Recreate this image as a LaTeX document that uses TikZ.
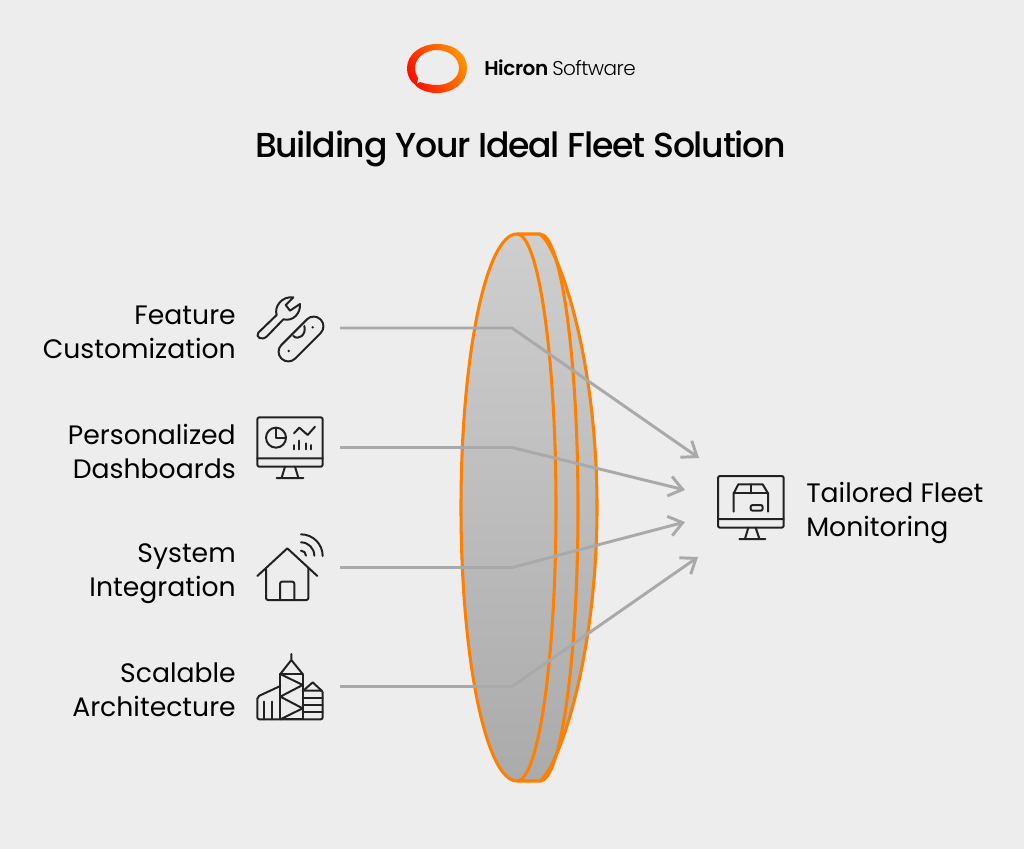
\documentclass[tikz,border=0pt]{standalone}
\usepackage{fontspec}
\setmainfont{Poppins}
\newfontfamily\medfont[LetterSpace=-3.6]{Poppins Medium}
\newfontfamily\semifont[LetterSpace=-2]{Poppins SemiBold}
\newfontfamily\lightfont[LetterSpace=-2.8]{Poppins Light}
\usetikzlibrary{arrows.meta}
\definecolor{bgc}{HTML}{EDEDED}
\definecolor{inkc}{HTML}{222222}
\definecolor{orangec}{HTML}{FF8000}
\definecolor{linkc}{HTML}{A9A9A9}
\tikzset{
  lbl/.style={font=\fontsize{20}{25.5}\selectfont, text=black, inner sep=0pt},
  iconline/.style={draw=inkc, line width=1.5pt, line cap=round, line join=round},
  rim/.style={draw=orangec, line width=2.3pt, line join=round},
  link/.style={draw=linkc, line width=2.2pt, line join=miter},
  linkarrow/.style={link, -{Straight Barb[length=10pt,width=15pt,line width=2.2pt]}}
}
\newcommand{\discoutline}{(517,234) -- (540,234) .. controls (560,250) and (597,360) .. (597,507.5)
  .. controls (597,655) and (560,765) .. (540,781)
  -- (517,781) arc[start angle=90,end angle=270,x radius=56,y radius=273.5] -- cycle}
\begin{document}
\begin{tikzpicture}[x=.75pt,y=-.75pt]
\path[use as bounding box, fill=bgc] (0,0) rectangle (1024,849);
% disc
\shade[top color=black!19, bottom color=black!33, shading angle=0] \discoutline;
\draw[rim] \discoutline;
\draw[rim] (517,234) arc[start angle=-90,end angle=90,x radius=39,y radius=273.5];
\draw[rim] (540,234) arc[start angle=-90,end angle=90,x radius=38,y radius=273.5];
% logo
\shade[left color=orangec!85!yellow, right color=red!90!orange, shading angle=-60, even odd rule]
  (437,44) .. controls (456,44) and (467,55) .. (467,68) .. controls (467,82) and (454,93) .. (437,93)
  .. controls (429,93) and (423,91) .. (417,87) .. controls (414,83) and (412,82) .. (412,82)
  .. controls (409,78) and (407,74) .. (407,68) .. controls (407,55) and (420,44) .. (437,44) -- cycle
  (437,50) .. controls (449,50) and (459,58) .. (459,68) .. controls (459,78) and (449,85) .. (437,85)
  .. controls (431,85) and (426,84) .. (420,82) -- (417,84) -- (418,78)
  .. controls (416,75) and (415,72) .. (415,68) .. controls (415,58) and (425,50) .. (437,50) -- cycle;
\node[anchor=base west, inner sep=0pt, font=\fontsize{15}{15}\selectfont] (brand) at (484,75) {{\semifont Hicron}\hspace{3pt}{\lightfont Software}};
\node[anchor=base, inner sep=0pt, font=\fontsize{26}{26}\selectfont\medfont] (title) at (520.5,157) {Building Your Ideal Fleet Solution};
% labels
\node[lbl, align=right, anchor=east] (l1) at (236,332) {Feature\\Customization};
\node[lbl, align=right, anchor=east] (l2) at (236,451) {Personalized\\Dashboards};
\node[lbl, align=right, anchor=east] (l3) at (236,574) {System\\Integration};
\node[lbl, align=right, anchor=east] (l4) at (236,690) {Scalable\\Architecture};
\node[lbl, align=left, anchor=west] (out) at (806,513) {Tailored Fleet\\Monitoring};
% connectors
\coordinate (a1) at (340,328); \coordinate (b1) at (512,328); \coordinate (c1) at (699,458);
\coordinate (a2) at (340,447.5); \coordinate (b2) at (512,447.5); \coordinate (c2) at (685,490);
\coordinate (a3) at (340,567.5); \coordinate (b3) at (512,567.5); \coordinate (c3) at (685,522);
\coordinate (a4) at (340,686.5); \coordinate (b4) at (512,686.5); \coordinate (c4) at (698,557);
\draw[linkarrow] (a1) -- (b1) -- (c1);
\draw[linkarrow] (a2) -- (b2) -- (c2);
\draw[linkarrow] (a3) -- (b3) -- (c3);
\draw[linkarrow] (a4) -- (b4) -- (c4);
% icons top
\begin{scope}[shift={(240,280)},x=.25pt,y=-.25pt]
\draw[iconline] (55,158) -- (110,105) .. controls (102,80) and (125,48) .. (160,52) -- (137,75) -- (150,92) -- (180,72)
  .. controls (182,100) and (160,125) .. (130,118) -- (82,168) .. controls (65,185) and (45,170) .. (55,158) -- cycle;
\draw[iconline, rotate around={45:(183,177)}, rounded corners=7.2pt] (100,148) rectangle (266,206);
\draw[iconline] (160,168) .. controls (175,182) and (200,165) .. (193,138);
\fill[inkc] (218,142) circle[radius=4] (146,213) circle[radius=4];
% monitor
\draw[iconline, rounded corners=1.5pt] (52,412) rectangle (248,560);
\draw[iconline] (52,535) -- (248,535) (135,560) -- (125,593) (165,560) -- (175,593) (110,594) -- (190,594);
\draw[iconline] (108,473) circle[radius=30];
\draw[iconline] (108,443) -- (108,473) -- (138,473);
\draw[iconline] (162,460) -- (178,443) -- (203,465) -- (225,440);
\draw[iconline] (162,495) -- (162,508) (176,482) -- (176,508) (198,490) -- (198,508) (214,495) -- (214,508);
\end{scope}
\begin{scope}[shift={(240,520)},x=.25pt,y=-.25pt]
% house
\draw[iconline] (52,168) -- (142,85) -- (232,168);
\draw[iconline, rounded corners=1.5pt] (78,145) -- (78,240) -- (205,240) -- (205,145);
\draw[iconline, rounded corners=1.5pt] (120,240) -- (120,185) -- (163,185) -- (163,240);
\draw[iconline] (183,92) arc[start angle=-90,end angle=0,radius=15];
\draw[iconline] (183,67) arc[start angle=-90,end angle=0,radius=40];
\draw[iconline] (183,43) arc[start angle=-90,end angle=0,radius=65];
% buildings
\draw[iconline] (121,462) rectangle (188,598);
\draw[iconline] (121,462) -- (154,420) -- (188,462) (154,420) -- (154,402);
\draw[iconline] (121,462) -- (188,495) -- (121,530) -- (188,565) -- (121,598);
\draw[iconline, rounded corners=1.5pt] (121,498) -- (52,530) -- (52,598) -- (248,598) -- (248,512) -- (188,512);
\draw[iconline] (73,545) -- (73,598) (97,545) -- (97,598);
\draw[iconline] (190,512) -- (218,487) -- (245,512);
\draw[iconline] (188,533) -- (248,533) (188,555) -- (248,555) (188,577) -- (248,577);
\end{scope}
\begin{scope}[shift={(670,440)},x=.25pt,y=-.25pt]
\draw[iconline, rounded corners=1.5pt] (144,108) rectangle (341,263);
\draw[iconline] (144,237) -- (341,237) (235,263) -- (225,296) (257,263) -- (268,296) (208,297) -- (286,297);
\draw[iconline] (191,215) -- (191,160) -- (205,133) -- (278,133) -- (294,160) -- (294,215);
\draw[iconline] (191,160) -- (294,160) (242,133) -- (242,160);
\draw[iconline, rounded corners=1.5pt] (242,195) rectangle (278,212);
\end{scope}
\end{tikzpicture}
\end{document}
